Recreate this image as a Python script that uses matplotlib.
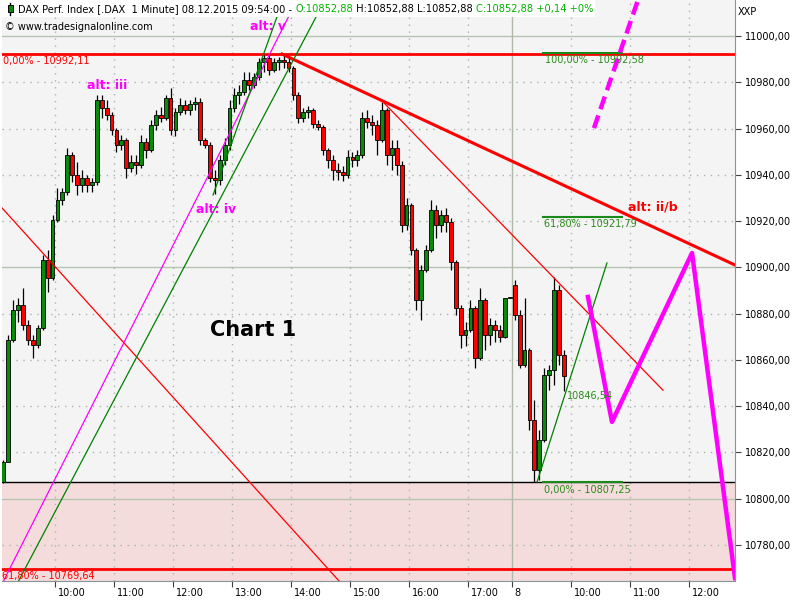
import matplotlib
matplotlib.use("Agg")
import matplotlib.pyplot as plt
import matplotlib.patches as mpatches
from matplotlib.lines import Line2D

plt.rcParams["font.family"] = ["DejaVu Sans"]

# 5-minute bars; x = minutes since 09:00 on 07.12.2015, session of 08.12 starts at 525
bar_start = list(range(5, 521, 5)) + list(range(525, 576, 5))

opens = [
    10807.2, 10815.9, 10868.6, 10881.6, 10883.7, 10875.1, 10868.6, 10866.4, 10873.8, 10903.2,
    10895.4, 10920.5, 10929.1, 10932.6, 10948.6, 10939.9, 10935.6, 10938.6, 10935.6, 10936.9,
    10972.3, 10968.9, 10965.9, 10959.4, 10952.9, 10955.1, 10943.0, 10945.5, 10944.2, 10954.2,
    10950.7, 10961.5, 10965.9, 10964.6, 10973.2, 10959.4, 10967.2, 10970.2, 10968.0, 10970.6,
    10971.5, 10955.1, 10952.9, 10938.6, 10937.8, 10946.4, 10952.9, 10968.9, 10974.5, 10975.8,
    10981.0, 10978.8, 10982.3, 10988.8, 10990.5, 10985.3, 10988.8, 10989.6, 10988.8, 10986.2,
    10974.5, 10964.6, 10967.2, 10968.0, 10962.0, 10960.7, 10950.7, 10946.4, 10942.1, 10941.2,
    10939.9, 10947.7, 10946.4, 10948.6, 10964.6, 10962.8, 10961.5, 10955.1, 10968.0, 10948.6,
    10951.6, 10944.2, 10918.3, 10927.0, 10907.5, 10885.9, 10898.9, 10907.5, 10924.8, 10918.3,
    10922.6, 10919.6, 10902.3, 10882.4, 10870.8, 10872.9, 10882.4, 10860.8, 10885.9, 10870.8,
    10875.1, 10872.9, 10869.9, 10886.8,
    10892.4, 10879.4, 10858.0, 10864.3, 10834.0, 10812.4, 10825.4, 10853.5, 10855.6, 10890.2, 10862.1,
]
highs = [
    10816.7, 10870.8, 10885.9, 10886.8, 10891.1, 10877.2, 10870.8, 10875.1, 10905.3, 10907.5,
    10922.6, 10934.3, 10934.3, 10951.6, 10949.9, 10945.5, 10942.1, 10939.9, 10938.6, 10974.5,
    10974.5, 10972.3, 10967.2, 10960.2, 10957.2, 10955.9, 10948.6, 10948.6, 10957.2, 10955.9,
    10963.7, 10968.0, 10969.3, 10974.5, 10977.5, 10968.9, 10973.2, 10972.3, 10972.3, 10973.6,
    10973.2, 10955.9, 10954.2, 10942.1, 10948.6, 10955.9, 10972.3, 10977.5, 10978.8, 10984.4,
    10984.4, 10984.0, 10990.5, 10991.8, 10992.1, 10990.5, 10990.9, 10992.11, 10990.5, 10987.0,
    10975.8, 10968.9, 10969.7, 10968.9, 10963.7, 10961.5, 10951.6, 10948.6, 10945.1, 10943.8,
    10950.7, 10949.9, 10950.7, 10967.2, 10968.0, 10965.9, 10963.7, 10971.5, 10968.9, 10955.1,
    10955.1, 10946.0, 10930.0, 10927.8, 10908.4, 10901.0, 10909.7, 10929.1, 10927.0, 10924.8,
    10925.7, 10921.3, 10903.2, 10883.7, 10876.4, 10885.9, 10883.3, 10891.1, 10886.8, 10878.1,
    10877.2, 10875.1, 10886.8, 10886.8,
    10894.5, 10881.6, 10886.8, 10865.1, 10842.7, 10829.7, 10856.5, 10857.8, 10895.8, 10892.4, 10864.3,
]
lows = [
    10806.9, 10815.9, 10867.7, 10876.4, 10872.9, 10866.4, 10860.8, 10865.1, 10872.9, 10889.4,
    10894.5, 10919.6, 10927.0, 10931.3, 10936.9, 10931.3, 10932.6, 10932.6, 10932.6, 10935.6,
    10964.6, 10963.7, 10957.2, 10949.9, 10950.7, 10938.6, 10941.2, 10940.4, 10943.0, 10947.3,
    10949.9, 10959.4, 10962.8, 10963.7, 10957.2, 10956.8, 10965.9, 10966.3, 10965.9, 10968.0,
    10952.9, 10951.6, 10936.9, 10931.7, 10935.6, 10944.2, 10950.7, 10967.2, 10970.6, 10974.5,
    10976.7, 10977.5, 10981.0, 10984.4, 10983.1, 10984.4, 10985.3, 10986.2, 10984.4, 10972.3,
    10962.4, 10962.8, 10964.6, 10960.2, 10959.4, 10948.6, 10943.0, 10937.8, 10937.8, 10937.3,
    10938.6, 10943.4, 10943.8, 10947.3, 10960.2, 10957.2, 10948.6, 10954.2, 10944.2, 10942.1,
    10939.9, 10915.3, 10916.1, 10905.3, 10881.6, 10877.2, 10898.0, 10906.6, 10912.7, 10915.3,
    10915.3, 10898.9, 10879.4, 10865.1, 10866.0, 10872.1, 10856.5, 10860.0, 10864.3, 10866.4,
    10867.7, 10867.7, 10869.5, 10886.8,
    10877.2, 10856.5, 10857.0, 10829.7, 10807.25, 10808.0, 10824.5, 10847.0, 10849.2, 10857.8, 10846.5,
]
closes = [
    10815.9, 10868.6, 10881.6, 10883.7, 10875.1, 10868.6, 10866.4, 10873.8, 10903.2, 10895.4,
    10920.5, 10929.1, 10932.6, 10948.6, 10939.9, 10935.6, 10938.6, 10935.6, 10936.9, 10972.3,
    10968.9, 10965.9, 10959.4, 10952.9, 10955.1, 10943.0, 10945.5, 10944.2, 10954.2, 10950.7,
    10961.5, 10965.9, 10964.6, 10973.2, 10959.4, 10967.2, 10970.2, 10968.0, 10970.6, 10971.5,
    10955.1, 10952.9, 10938.6, 10937.8, 10946.4, 10952.9, 10968.9, 10974.5, 10975.8, 10981.0,
    10978.8, 10982.3, 10988.8, 10990.5, 10985.3, 10988.8, 10989.6, 10988.8, 10986.2, 10974.5,
    10964.6, 10967.2, 10968.0, 10962.0, 10960.7, 10950.7, 10946.4, 10942.1, 10941.2, 10939.9,
    10947.7, 10946.4, 10948.6, 10964.6, 10962.8, 10961.5, 10955.1, 10968.0, 10948.6, 10951.6,
    10944.2, 10918.3, 10927.0, 10907.5, 10885.9, 10898.9, 10907.5, 10924.8, 10918.3, 10922.6,
    10919.6, 10902.3, 10882.4, 10870.8, 10872.9, 10882.4, 10860.8, 10885.9, 10870.8, 10875.1,
    10872.9, 10869.9, 10886.8, 10886.8,
    10879.4, 10858.0, 10864.3, 10834.0, 10812.4, 10825.4, 10853.5, 10855.6, 10890.2, 10862.1, 10852.88,
]

# fibonacci levels
fib_high = 10992.11
fib_low = 10807.25
fib_ext = 10769.64
fib_high2 = 10992.58
fib_618 = 10921.79

# drawn trend lines (time in minutes, price)
red_thick = ([290.8, 751.5], [10992.2, 10901.0])
red_thin1 = ([6.1, 349.8], [10925.7, 10764.0])
red_thin2 = ([393.6, 678.3], [10971.5, 10846.9])
magenta_thin = ([7.1, 306.1], [10764.0, 11015.6])
green_a = ([22.4, 334.6], [10764.0, 11015.6])
green_b = ([220.7, 291.9], [10931.3, 11015.6])
green_c = ([550.2, 621.3], [10807.25, 10901.9])
proj_time = [602.0, 626.4, 707.8, 751.5]
proj_price = [10887.2, 10833.2, 10906.2, 10765.7]
dash_time = [608.1, 652.9]
dash_price = [10960.2, 11015.6]

day_ticks = [60, 120, 180, 240, 300, 360, 420, 480, 525, 585, 645, 705]
day_labels = ["10:00", "11:00", "12:00", "13:00", "14:00", "15:00", "16:00", "17:00",
              "8", "10:00", "11:00", "12:00"]
price_ticks = [10780, 10800, 10820, 10840, 10860, 10880, 10900, 10920,
               10940, 10960, 10980, 11000]

W, H = 800, 600
fig = plt.figure(figsize=(8, 6), dpi=100)
fig.patch.set_facecolor("white")
ax = fig.add_axes([2 / W, 19 / H, 733 / W, 581 / H])
ax.set_facecolor("#f4f4f4")
ax.set_xlim(6.1, 751.5)
ax.set_ylim(10764.44, 11015.56)

# zone below the 0% level
ax.axhspan(10700, fib_low, color="#f5dcdc", zorder=0.3)

# grid
for p in price_ticks:
    if p % 100 == 0:
        ax.axhline(p, color="#b4c4b0", lw=1, zorder=0.5)
    else:
        ax.axhline(p, color="#a8b4a8", lw=1, ls=(0, (1, 4)), zorder=0.5)
for t in day_ticks:
    if t == 525:
        ax.axvline(t, color="#b0b8a8", lw=1, zorder=0.5)
    else:
        ax.axvline(t, color="#a8b4a8", lw=1, ls=(0, (1, 4)), zorder=0.5)

# level lines
ax.axhline(fib_low, color="black", lw=1, zorder=2)
ax.axhline(fib_high, color="#ff0000", lw=2, zorder=2)
ax.axhline(fib_ext, color="#ff0000", lw=2, zorder=2)
for lvl in (fib_high2, fib_618, fib_low):
    ax.plot([556.3, 636.6], [lvl, lvl], color="#1a8a1a", lw=1.5, zorder=2.5)

# candles
centers = [t + 2.5 for t in bar_start]
cols = ["#0a8a0a" if c >= o else "#ff0000" for o, c in zip(opens, closes)]
ax.vlines(centers, lows, highs, color="black", lw=0.9, zorder=3)
bodies = [max(abs(c - o), 0.4) for o, c in zip(opens, closes)]
bottoms = [min(o, c) for o, c in zip(opens, closes)]
ax.bar(centers, bodies, bottom=bottoms, width=3.9, color=cols,
       edgecolor="black", linewidth=0.6, zorder=3.5)

# trend lines
ax.plot(*red_thin1, color="#ff0000", lw=0.9, zorder=4)
ax.plot(*red_thin2, color="#ff0000", lw=0.9, zorder=4)
ax.plot(*red_thick, color="#ff0000", lw=2.2, zorder=4)
ax.plot(*magenta_thin, color="#ff00ff", lw=0.9, zorder=4)
ax.plot(*green_a, color="#008000", lw=0.9, zorder=4)
ax.plot(*green_b, color="#008000", lw=0.9, zorder=4)
ax.plot(*green_c, color="#008000", lw=0.9, zorder=4)
ax.plot(proj_time, proj_price, color="#ff00ff", lw=3.2, zorder=4.5)
ax.plot(dash_time, dash_price, color="#ff00ff", lw=3.2, ls=(0, (3, 1.5)), zorder=4.5)

# labels
ax.text(7.1, 10991.4, "0,00% - 10992,11", color="#ff0000", fontsize=7, va="top", zorder=5)
ax.text(6.5, 10768.6, "61,80% - 10769,64", color="#ff0000", fontsize=7, va="top",
        zorder=5, clip_on=True)
ax.text(558.3, 10991.6, "100,00% - 10992,58", color="#2a8a1a", fontsize=7, va="top", zorder=5)
ax.text(557.3, 10920.8, "61,80% - 10921,79", color="#2a8a1a", fontsize=7, va="top", zorder=5)
ax.text(557.3, 10805.9, "0,00% - 10807,25", color="#2a8a1a", fontsize=7, va="top", zorder=5)
ax.text(580.5, 10846.6, "10846,54", color="#2a8a1a", fontsize=7, va="top", zorder=5)
ax.text(258.3, 11004.3, "alt: v", color="#ff00ff", fontsize=9, fontweight="bold",
        va="center", zorder=5)
ax.text(92.5, 10978.4, "alt: iii", color="#ff00ff", fontsize=9, fontweight="bold",
        va="center", zorder=5)
ax.text(203.4, 10924.8, "alt: iv", color="#ff00ff", fontsize=9, fontweight="bold",
        va="center", zorder=5)
ax.text(642.7, 10926.1, "alt: ii/b", color="#ff0000", fontsize=9, fontweight="bold",
        va="center", zorder=5)
ax.text(217.6, 10872.9, "Chart 1", color="black", fontsize=15, fontweight="bold",
        va="center", zorder=5)

# axes styling
for s in ("left", "top"):
    ax.spines[s].set_visible(False)
ax.spines["right"].set_color("#8a929a")
ax.spines["bottom"].set_color("#8a929a")
ax.yaxis.tick_right()
ax.set_yticks(price_ticks)
ax.set_yticklabels([f"{p:.2f}".replace(".", ",") for p in price_ticks])
ax.tick_params(axis="y", direction="out", length=4, pad=3, labelsize=7,
               color="#404040", labelcolor="black")
ax.set_xticks(day_ticks)
ax.set_xticklabels([])
ax.tick_params(axis="x", direction="out", length=4, color="#404040")
for t, lab in zip(day_ticks, day_labels):
    ax.text(t + 2.5, -0.012, lab, transform=ax.get_xaxis_transform(),
            fontsize=7, va="top", ha="left")

# header
fig.add_artist(mpatches.Rectangle((0, 1 - 17 / H), 595 / W, 17 / H,
                                  transform=fig.transFigure, facecolor="white",
                                  edgecolor="none", zorder=10))
fig.add_artist(Line2D([10 / W, 10 / W], [1 - 3 / H, 1 - 15 / H],
                      transform=fig.transFigure, color="black", lw=1, zorder=11))
fig.add_artist(mpatches.Rectangle((8 / W, 1 - 12 / H), 5 / W, 7 / H,
                                  transform=fig.transFigure, facecolor="#0a8a0a",
                                  edgecolor="black", lw=0.7, zorder=12))
hy = 1 - 9 / H
header_parts = [
    ("DAX Perf. Index [.DAX  1 Minute] 08.12.2015 09:54:00 - ", "black"),
    ("O:10852,88", "#00b000"),
    (" H:10852,88 L:10852,88 ", "black"),
    ("C:10852,88 +0,14 +0%", "#00b000"),
]
renderer = fig.canvas.get_renderer()
hx = 18
for txt, col in header_parts:
    t = fig.text(hx / W, hy, txt, color=col, fontsize=7.1, va="center", zorder=12)
    hx = t.get_window_extent(renderer=renderer).x1
fig.text(5 / W, 1 - 27 / H, "\u00a9 www.tradesignalonline.com", fontsize=7,
         va="center", zorder=12)
fig.text(738 / W, 1 - 12 / H, "XXP", fontsize=7, va="center")

fig.savefig("out.png", dpi=100)
